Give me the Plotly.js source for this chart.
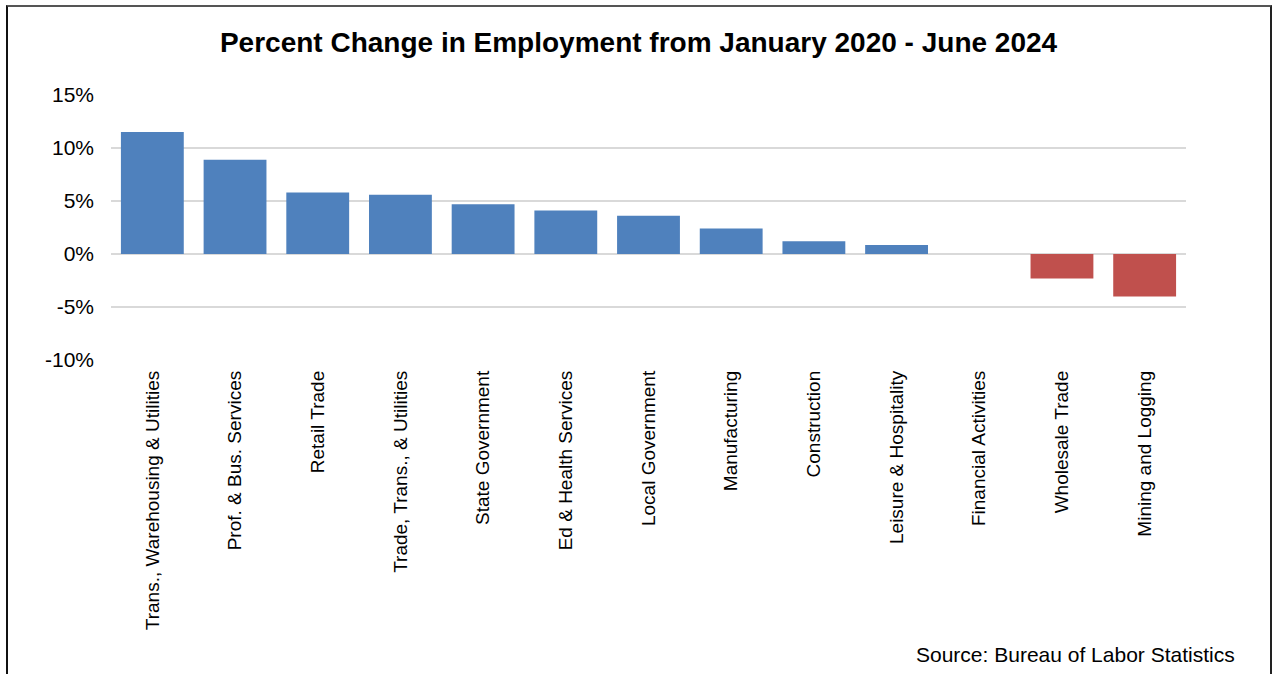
<!DOCTYPE html>
<html>
<head>
<meta charset="utf-8">
<script src="https://cdn.plot.ly/plotly-3.0.1.min.js"></script>
<style>
  html, body { margin: 0; padding: 0; background: #fff; overflow: hidden; }
  #wrap { position: relative; width: 1272px; height: 674px; }
  #chart { width: 1272px; height: 674px; }
  #frame { position: absolute; left: 6px; top: 5px; width: 1262px; height: 700px;
           border-left: 2px solid #111; border-top: 2px solid #555; border-right: 2px solid #222;
           pointer-events: none; }
</style>
</head>
<body>
<div id="wrap">
  <div id="chart"></div>
  <div id="frame"></div>
</div>
<script>
const categories = [
  "Trans., Warehousing & Utilities",
  "Prof. & Bus. Services",
  "Retail Trade",
  "Trade, Trans., & Utilities",
  "State Government",
  "Ed & Health Services",
  "Local Government",
  "Manufacturing",
  "Construction",
  "Leisure & Hospitality",
  "Financial Activities",
  "Wholesale Trade",
  "Mining and Logging"
];
const pctChange = [11.5, 8.9, 5.8, 5.6, 4.7, 4.1, 3.6, 2.4, 1.2, 0.85, 0.0, -2.3, -4.0];
const yTickVals = [-10, -5, 0, 5, 10, 15];
const yTickText = ["-10%", "-5%", "0%", "5%", "10%", "15%"];

const barColors = pctChange.map(v => v < 0 ? "#c0504d" : "#4f81bd");

const trace = {
  type: "bar",
  x: categories,
  y: pctChange,
  marker: { color: barColors, line: { width: 0 } },
  hoverinfo: "x+y"
};

const layout = {
  width: 1272,
  height: 674,
  paper_bgcolor: "#fff",
  plot_bgcolor: "#fff",
  margin: { l: 111, r: 86, t: 95, b: 314 },
  bargap: 0.24,
  showlegend: false,
  font: { family: "Liberation Sans, Arial, sans-serif", color: "#000" },
  title: {
    text: "<b>Percent Change in Employment from January 2020 - June 2024</b>",
    font: { size: 28, color: "#000", family: "Liberation Sans, Arial, sans-serif" },
    x: 0.502, xref: "container", xanchor: "center",
    y: 0.937, yref: "container", yanchor: "middle"
  },
  xaxis: {
    type: "category",
    tickangle: -90,
    tickfont: { size: 19, color: "#000" },
    showgrid: false,
    showline: false,
    zeroline: false,
    ticks: "",
    ticklabelstandoff: 6,
    automargin: false
  },
  yaxis: {
    range: [-10, 15],
    tickvals: yTickVals,
    ticktext: yTickText,
    tickfont: { size: 21, color: "#000" },
    showgrid: true,
    gridcolor: "#d9d9d9",
    gridwidth: 1.5,
    zeroline: true,
    zerolinecolor: "#d9d9d9",
    zerolinewidth: 1.5,
    showline: false,
    ticks: "",
    ticklabelstandoff: 16,
    automargin: false
  },
  annotations: [{
    text: "Source: Bureau of Labor Statistics",
    xref: "paper", yref: "paper",
    x: 1.0, y: -1.11,
    xanchor: "right", yanchor: "middle",
    xshift: 51,
    showarrow: false,
    font: { size: 21, color: "#000" }
  }]
};

Plotly.newPlot("chart", [trace], layout, { displayModeBar: false, staticPlot: true });
</script>
</body>
</html>
